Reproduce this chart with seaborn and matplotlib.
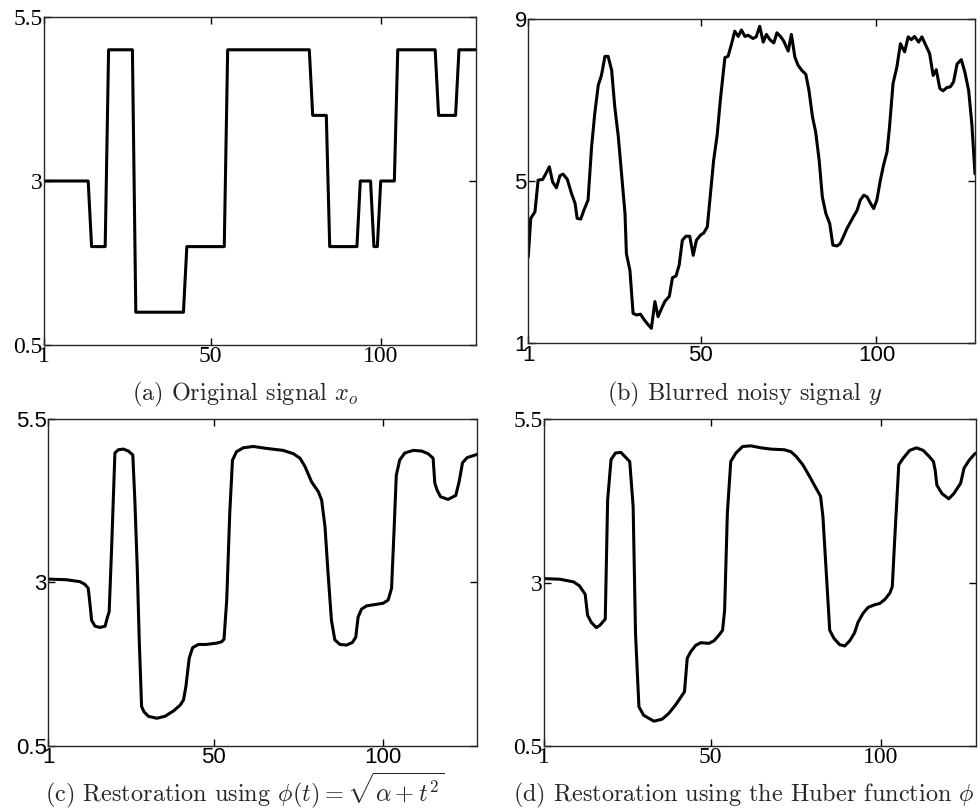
import numpy as np
import pandas as pd
import seaborn as sns
import matplotlib.pyplot as plt

# (a) original piecewise-constant signal, one value per sample 1..128
x_orig = list(range(1, 129))
y_orig = ([3] * 14 + [2] * 5 + [5] * 8 + [1] * 15 + [2] * 12 + [5] * 25 +
          [4] * 5 + [2] * 9 + [3] * 4 + [2] * 2 + [3] * 5 + [5] * 12 +
          [4] * 6 + [5] * 6)

# (b) blurred noisy signal, vertices
x_blur = [1, 1.7, 2.9, 3.8, 5.1, 6.0, 7.0, 7.9, 9.0, 10.0, 10.9, 12.1, 13.3,
          14.3, 14.9, 15.9, 16.9, 18.0, 19.0, 19.9, 20.9, 21.8, 22.8, 23.7,
          24.7, 25.6, 26.6, 27.5, 28.5, 28.9, 29.9, 30.8, 31.8, 32.9, 33.9,
          34.9, 36.0, 37.0, 37.9, 38.9, 39.8, 41.1, 42.0, 43.0, 43.9, 44.8,
          45.8, 46.9, 47.9, 48.8, 50.0, 50.9, 51.9, 52.8, 53.7, 54.7, 55.6,
          56.9, 57.8, 58.8, 59.7, 60.7, 61.6, 62.6, 63.5, 64.9, 65.8, 66.8,
          67.8, 68.7, 69.7, 70.8, 71.7, 72.7, 73.6, 74.9, 75.8, 76.8, 77.7,
          78.7, 79.9, 80.8, 81.8, 82.7, 83.7, 84.6, 85.6, 86.7, 87.6, 88.8,
          89.7, 90.6, 91.6, 92.6, 93.5, 94.5, 95.4, 96.4, 97.3, 98.3, 99.2,
          100.1, 101.1, 102.0, 103.0, 103.7, 104.7, 105.8, 106.8, 108.0,
          109.0, 109.9, 110.8, 112.0, 112.9, 113.8, 115.1, 116.1, 117.0,
          118.0, 118.9, 120.0, 121.0, 121.9, 122.9, 124.1, 125.1, 126.2,
          127.1, 128]
y_blur = [3.13, 4.08, 4.24, 5.02, 5.04, 5.18, 5.35, 4.98, 4.83, 5.13, 5.17,
          5.04, 4.69, 4.45, 4.08, 4.06, 4.30, 4.53, 5.84, 6.66, 7.36, 7.60,
          8.07, 8.07, 7.73, 6.82, 6.09, 5.18, 4.20, 3.21, 2.80, 1.74, 1.70,
          1.72, 1.59, 1.48, 1.37, 2.03, 1.66, 1.86, 2.03, 2.16, 2.62, 2.66,
          2.93, 3.54, 3.64, 3.64, 3.17, 3.54, 3.67, 3.72, 3.87, 4.69, 5.51,
          6.13, 6.99, 8.04, 8.07, 8.38, 8.69, 8.56, 8.72, 8.56, 8.59, 8.51,
          8.55, 8.81, 8.42, 8.61, 8.48, 8.40, 8.65, 8.56, 8.45, 8.20, 8.61,
          8.05, 7.85, 7.73, 7.63, 7.23, 6.58, 6.21, 5.51, 4.61, 4.20, 3.95,
          3.42, 3.40, 3.46, 3.63, 3.83, 3.99, 4.13, 4.28, 4.53, 4.65, 4.61,
          4.45, 4.32, 4.53, 5.02, 5.39, 5.72, 6.33, 7.40, 7.81, 8.38, 8.18,
          8.55, 8.48, 8.56, 8.42, 8.55, 8.38, 8.14, 7.60, 7.74, 7.28, 7.22,
          7.30, 7.32, 7.44, 7.88, 7.99, 7.69, 7.23, 6.41, 5.18]

# (c) restoration with sqrt(alpha + t^2)
x_sqrt = [1, 6.4, 10.4, 11.8, 12.8, 13.3, 13.8, 14.8, 16.3, 17.8, 18.5, 19.0,
          19.7, 20.7, 21.7, 23.2, 24.7, 26.0, 26.6, 27.3, 27.9, 28.6, 29.3,
          30.6, 33.1, 35.5, 38.0, 40.0, 41.0, 41.7, 42.7, 43.7, 45.4, 47.8,
          50.8, 52.3, 53.0, 53.8, 54.7, 55.5, 56.7, 58.7, 61.7, 65.6, 70.5,
          73.5, 75.5, 77.0, 78.9, 80.9, 81.9, 82.9, 83.8, 84.8, 85.8, 87.3,
          89.3, 91.0, 92.0, 92.7, 93.7, 95.2, 97.6, 100.1, 101.6, 102.6,
          103.3, 104.0, 105.0, 106.5, 109.0, 111.5, 113.4, 114.9, 115.4,
          116.1, 117.1, 119.3, 121.6, 122.6, 123.6, 125.0, 128]
y_sqrt = [3.05, 3.04, 3.01, 2.97, 2.91, 2.68, 2.42, 2.33, 2.31, 2.33, 2.47,
          2.55, 3.49, 4.98, 5.03, 5.04, 5.01, 4.95, 4.26, 3.24, 2.12, 1.10,
          1.02, 0.95, 0.92, 0.95, 1.03, 1.12, 1.20, 1.40, 1.84, 2.00, 2.05,
          2.05, 2.07, 2.09, 2.13, 2.73, 4.06, 4.87, 5.00, 5.06, 5.08, 5.05,
          5.02, 4.97, 4.90, 4.77, 4.54, 4.39, 4.26, 3.85, 3.14, 2.42, 2.12,
          2.05, 2.04, 2.08, 2.16, 2.47, 2.59, 2.64, 2.66, 2.68, 2.73, 2.91,
          3.75, 4.64, 4.87, 4.98, 5.02, 5.01, 4.97, 4.90, 4.52, 4.41, 4.31,
          4.27, 4.33, 4.54, 4.83, 4.91, 4.96]

# (d) restoration with the Huber function
x_huber = [1, 5.7, 9.7, 11.4, 13.1, 13.8, 14.9, 16.4, 17.5, 19.0, 19.7, 20.7,
           22.0, 23.6, 24.9, 26.2, 27.2, 27.9, 28.9, 30.3, 33.3, 35.7, 37.7,
           39.7, 42.3, 43.1, 44.1, 45.6, 47.1, 49.5, 51.0, 52.5, 53.5, 54.1,
           54.9, 55.9, 57.4, 59.4, 61.8, 64.8, 67.7, 71.7, 73.6, 75.1, 77.1,
           79.1, 81.0, 82.3, 83.0, 84.0, 85.0, 86.2, 87.9, 89.4, 90.9, 92.3,
           93.3, 94.8, 96.3, 98.2, 99.7, 101.2, 102.7, 103.4, 104.1, 105.3,
           106.6, 108.5, 110.5, 112.5, 114.2, 115.5, 116.0, 116.5, 118.0,
           120.0, 121.5, 123.5, 124.5, 126.0, 127.5, 128]
y_huber = [3.06, 3.05, 3.01, 2.95, 2.82, 2.50, 2.39, 2.31, 2.35, 2.44, 4.26,
           4.88, 4.98, 4.99, 4.92, 4.85, 4.16, 2.22, 1.10, 0.97, 0.88, 0.91,
           1.00, 1.13, 1.33, 1.84, 1.94, 2.04, 2.08, 2.07, 2.11, 2.20, 2.27,
           2.58, 4.06, 4.85, 4.98, 5.08, 5.09, 5.06, 5.04, 5.03, 5.00, 4.93,
           4.80, 4.62, 4.44, 4.32, 4.01, 3.14, 2.27, 2.15, 2.05, 2.03, 2.11,
           2.23, 2.39, 2.53, 2.62, 2.66, 2.68, 2.74, 2.84, 2.94, 3.65, 4.80,
           4.90, 5.02, 5.06, 5.02, 4.93, 4.85, 4.72, 4.49, 4.36, 4.28, 4.36,
           4.52, 4.75, 4.87, 4.96, 4.98]

captions = [r"(a) Original signal $x_o$",
            r"(b) Blurred noisy signal $y$",
            r"(c) Restoration using $\phi(t) = \sqrt{\alpha + t^2}$",
            r"(d) Restoration using the Huber function $\phi$"]
x_ticks = [1, 50, 100]
y_ticks_small = [0.5, 3, 5.5]
y_ticks_blur = [1, 5, 9]

sns.set_style("ticks")
plt.rcParams['mathtext.fontset'] = 'cm'
plt.rcParams['axes.linewidth'] = 1.0

fig = plt.figure(figsize=(9.79, 8.08), dpi=100)
boxes = [[0.0449, 0.573, 0.4413, 0.406],
         [0.5396, 0.575, 0.4563, 0.402],
         [0.0494, 0.0771, 0.4382, 0.4043],
         [0.5557, 0.0767, 0.4412, 0.4047]]
# caption anchors (centre x, baseline y) of each subfigure
cap_pos = [(0.2503, 0.505), (0.760, 0.505), (0.2503, 0.0087), (0.760, 0.0087)]
series = [(x_orig, y_orig), (x_blur, y_blur), (x_sqrt, y_sqrt),
          (x_huber, y_huber)]
tick_fonts = ['Liberation Serif', 'Liberation Sans', 'Liberation Sans',
              'Liberation Serif']
tick_sizes = [17, 16, 16, 17]

for i in range(4):
    ax = fig.add_axes(boxes[i])
    xs, ys = series[i]
    df = pd.DataFrame({'t': xs, 'v': ys})
    sns.lineplot(data=df, x='t', y='v', ax=ax, color='black', linewidth=2.2,
                 sort=False, estimator=None)
    ax.set_xlim(1, 128)
    yt = y_ticks_blur if i == 1 else y_ticks_small
    ax.set_ylim(yt[0], yt[-1])
    ax.set_xticks(x_ticks)
    ax.set_yticks(yt)
    ax.set_xticklabels([str(t) for t in x_ticks], fontfamily=tick_fonts[i],
                       fontsize=tick_sizes[i])
    ax.set_yticklabels([('%g' % t) for t in yt], fontfamily=tick_fonts[i],
                       fontsize=tick_sizes[i])
    ax.tick_params(direction='in', top=True, right=True, length=5, width=1,
                   pad=1, colors='black')
    ax.set_ylabel('')
    ax.set_xlabel('')
    fig.text(cap_pos[i][0], cap_pos[i][1], captions[i], fontfamily='cmr10',
             fontsize=17.5, ha='center', va='baseline')

fig.savefig('out.png', dpi=100)
